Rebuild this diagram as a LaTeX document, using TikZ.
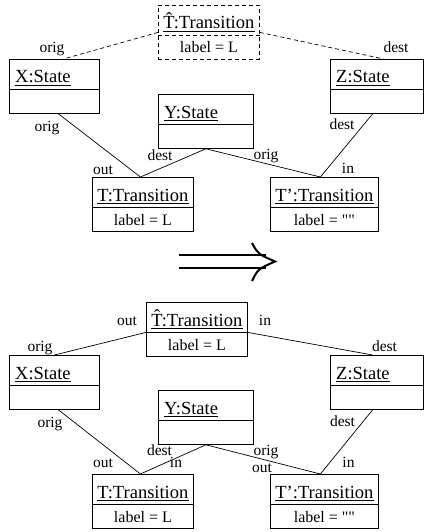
\documentclass[tikz,border=0pt]{standalone}
\usepackage{fontspec}
\setmainfont{Liberation Serif}
\tikzset{
  objbox/.style={draw, line width=0.8pt, rectangle, minimum height=54pt, inner sep=0pt},
  objtitle/.style={inner sep=0pt, font=\fontsize{18.5}{20}\selectfont},
  objattr/.style={inner sep=0pt, font=\fontsize{16}{18}\selectfont},
  role/.style={inner sep=0pt, anchor=base, font=\fontsize{15.5}{17}\selectfont},
  uline/.style={line width=1.4pt},
  link/.style={line width=0.7pt},
  ghost/.style={dash pattern=on 4pt off 3pt},
}
% state object: name, nw corner, width, title
\newcommand\stateobj[4]{%
  \node[objbox, minimum width=#3pt, anchor=north west] (#1) at (#2) {};
  \draw[line width=0.8pt] ([yshift=-30pt]#1.north west) -- ([yshift=-30pt]#1.north east);
  \node[objtitle, anchor=base west] (#1t) at ([xshift=6pt,yshift=-24pt]#1.north west) {#4};
  \draw[uline] ([yshift=-2.5pt]#1t.base west) -- ([yshift=-2.5pt]#1t.base east);
}
% transition object: name, nw corner, width, title, attribute, extra style
\newcommand\transobj[6]{%
  \node[objbox, #6, minimum width=#3pt, anchor=north west] (#1) at (#2) {};
  \draw[line width=0.8pt, #6] ([yshift=-30pt]#1.north west) -- ([yshift=-30pt]#1.north east);
  \node[objtitle, anchor=base] (#1t) at ([yshift=-24pt]#1.north) {#4};
  \draw[uline] ([yshift=-2.5pt]#1t.base west) -- ([yshift=-2.5pt]#1t.base east);
  \node[objattr, anchor=base] (#1a) at ([yshift=-48pt]#1.north) {#5};
}
\begin{document}
\begin{tikzpicture}[x=1pt,y=-1pt]
  \useasboundingbox (0,0) rectangle (423,532);
  % left hand side
  \transobj{Th1}{158,5}{101}{\^{T}:Transition}{label = L}{ghost}
  \stateobj{X1}{9,59}{90}{X:State}
  \stateobj{Z1}{330,59}{92.5}{Z:State}
  \stateobj{Y1}{158,94}{95}{Y:State}
  \transobj{T1}{92,177}{101}{T:Transition}{label = L}{}
  \transobj{Tp1}{270,177}{108}{T’:Transition}{label = \textquotedbl\textquotedbl}{}

  \draw[link, ghost] (Th1.west) -- ([xshift=9pt]X1.north);
  \draw[link, ghost] (Th1.east) -- ([xshift=7pt]Z1.north);
  \draw[link] ([xshift=4pt]X1.south) -- ([xshift=-2.5pt]T1.north);
  \draw[link] (Y1.south) -- ([xshift=-2.5pt]T1.north);
  \draw[link] (Y1.south) -- ([xshift=-4pt]Tp1.north);
  \draw[link] ([xshift=-4pt]Z1.south) -- ([xshift=-4pt]Tp1.north);

  \node[role] (o1) at (52,53) {orig};
  \node[role] (d1) at (396,52.5) {dest};
  \node[role] (o2) at (47,131) {orig};
  \node[role] (d2) at (342,129) {dest};
  \node[role] (d3) at (160,160) {dest};
  \node[role] (o3) at (266,159.5) {orig};
  \node[role] (u1) at (103,174) {out};
  \node[role] (i1) at (348,173) {in};

  % rewrite arrow
  \draw[line width=2pt] (179,255) -- (266,255) (179,268) -- (266,268);
  \draw[line width=2pt] (252,243) .. controls (258,254) .. (275,261.5)
                                  .. controls (258,269) .. (252,281);

  % right hand side
  \transobj{Th2}{146,302}{101}{\^{T}:Transition}{label = L}{}
  \stateobj{X2}{9,355}{90}{X:State}
  \stateobj{Z2}{330,355}{92.5}{Z:State}
  \stateobj{Y2}{158,390}{95}{Y:State}
  \transobj{T2}{92,474}{101}{T:Transition}{label = L}{}
  \transobj{Tp2}{270,474}{108}{T’:Transition}{label = \textquotedbl\textquotedbl}{}

  \draw[link] ([yshift=-3pt]Th2.west) -- (X2.north);
  \draw[link] ([yshift=-3pt]Th2.east) -- ([xshift=-4pt]Z2.north);
  \draw[link] ([xshift=4pt]X2.south) -- ([xshift=-2.5pt]T2.north);
  \draw[link] (Y2.south) -- ([xshift=-2.5pt]T2.north);
  \draw[link] (Y2.south) -- ([xshift=-4pt]Tp2.north);
  \draw[link] ([xshift=-4pt]Z2.south) -- ([xshift=-4pt]Tp2.north);

  \node[role] (u2) at (127,325) {out};
  \node[role] (i2) at (265,325) {in};
  \node[role] (o4) at (40,351) {orig};
  \node[role] (d4) at (384.5,351) {dest};
  \node[role] (o5) at (50,427) {orig};
  \node[role] (d5) at (342.5,426) {dest};
  \node[role] (d6) at (159.5,455) {dest};
  \node[role] (i3) at (176,467) {in};
  \node[role] (u3) at (103,467) {out};
  \node[role] (o6) at (266,455) {orig};
  \node[role] (u4) at (262,472) {out};
  \node[role] (i4) at (348.5,467) {in};
\end{tikzpicture}
\end{document}
